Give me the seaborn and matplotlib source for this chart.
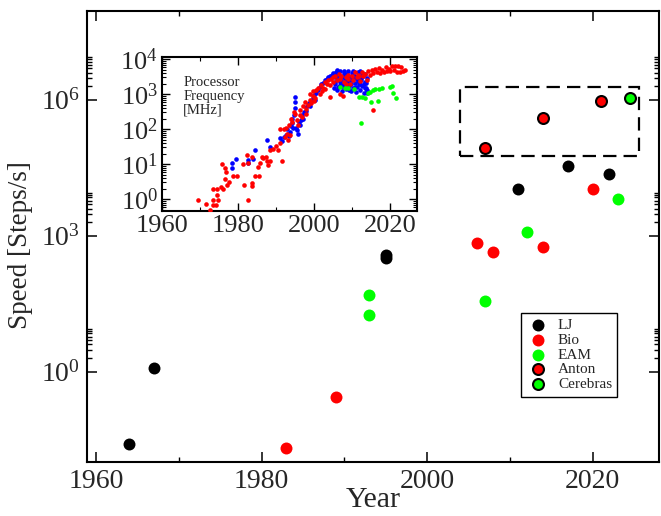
import matplotlib
matplotlib.use("Agg")
import matplotlib.pyplot as plt
import seaborn as sns
import numpy as np
from matplotlib.patches import Rectangle
from matplotlib.ticker import FixedLocator, NullFormatter

# ---------------- main chart data ----------------
lj_year = [1964, 1967, 1995, 1995, 2011, 2017, 2022]
lj_speed = [0.026, 1.23, 380, 320, 1.07e4, 3.4e4, 2.3e4]

bio_year = [1983, 1989, 2006, 2008, 2014, 2020]
bio_speed = [0.0204, 0.28, 708, 447, 575, 1.1e4]

eam_year = [1993, 1993, 2007, 2012, 2023]
eam_speed = [49, 17.8, 36, 1230, 6460]

anton_year = [2007, 2014, 2021]
anton_speed = [8.5e4, 3.9e5, 9.3e5]

cerebras_year = [2024.5]
cerebras_speed = [1.1e6]

series_labels = ["LJ", "Bio", "EAM", "Anton", "Cerebras"]

x_major = [1960, 1980, 2000, 2020]
x_minor = [1970, 1990, 2010]
y_major = [1e0, 1e3, 1e6]
y_major_labels = [r"$10^{0}$", r"$10^{3}$", r"$10^{6}$"]

# ---------------- inset data (processor frequency, MHz) ----------------
red_year = [1969.6, 1971.6, 1972.6, 1973.5, 1974.3, 1973.5, 1974.8, 1974.5, 1973.5, 1974.5,
            1976.0, 1975.5, 1975.9, 1976.5, 1976.8, 1976.7, 1977.7, 1977.0, 1978.6, 1979.8,
            1981.2, 1982.3, 1981.7, 1982.6, 1983.6, 1983.6, 1982.6, 1983.8, 1985.2, 1984.5,
            1985.6, 1985.8, 1986.7, 1986.2, 1987.3, 1987.6, 1987.9, 1988.3, 1988.4, 1989.3,
            1990.0, 1990.6, 1991.1, 1991.5, 1991.1, 1992.0, 1992.6, 1992.8, 1993.2, 1992.3,
            1993.7, 1993.5, 1994.0, 1994.3, 1994.6, 1995.1, 1995.5, 1995.8, 1996.3, 1996.8,
            1996.2, 1997.2, 1997.6, 1997.9, 1998.3, 1998.9, 1999.3, 1999.8, 1999.0, 1999.6,
            2000.5, 2000.2, 2001.0, 2001.6, 2001.8, 2002.4, 2002.8, 2003.3, 2003.6, 2004.2,
            2004.5, 2005.1, 2005.6, 2006.0, 2006.5, 2006.8, 2007.2, 2007.8, 2008.3, 2008.5,
            2009.0, 2009.5, 2010.0, 2010.3, 2010.8, 2011.2, 2011.6, 2012.1, 2012.5, 2013.0,
            2013.4, 2013.8, 2014.3, 2014.7, 2015.2, 2015.6, 2016.1, 2016.5, 2017.0, 2017.4,
            2017.9, 2018.3, 2018.8, 2019.2, 2019.8, 2020.0, 2020.5, 2020.9, 2021.3, 2021.7,
            2022.2, 2022.6, 2022.9, 2023.5, 2024.0, 2004.1, 2006.8, 2007.5, 2015.5, 1998.0,
            1999.9, 2002.0, 2003.0, 2005.0, 2008.9, 2011.9]
red_mhz = [0.93, 0.71, 0.49, 0.68, 0.68, 0.93, 0.93, 1.3, 1.9, 1.9,
           1.9, 2.2, 9.8, 8.0, 6.0, 3.7, 3.1, 2.6, 4.6, 4.6,
           9.8, 18, 2.5, 0.93, 2.8, 2.3, 10.5, 16, 8.5, 4.6,
           4.6, 11, 15, 16, 16, 12, 9.5, 12, 25, 28,
           32, 25, 40, 12.5, 100, 100, 110, 75, 50, 60,
           66, 130, 200, 160, 300, 280, 180, 130, 350, 220,
           250, 450, 600, 380, 500, 700, 550, 900, 1000, 1200,
           1300, 800, 1500, 1000, 1800, 1500, 2200, 2000, 2600, 1800,
           2800, 2300, 3200, 2600, 3800, 2800, 3400, 2200, 3000, 2000,
           3600, 1900, 3200, 2500, 4200, 3000, 3600, 2400, 4400, 3200,
           3800, 2600, 4700, 3600, 4800, 3900, 5200, 4300, 5600, 4100,
           5000, 4400, 6000, 4600, 5400, 4500, 6200, 4800, 6500, 4400,
           6400, 4300, 5800, 4700, 4900, 830, 1000, 900, 350, 280,
           650, 1200, 1400, 3000, 2700, 3300]

blue_year = [1978.3, 1978.3, 1979.6, 1982.5, 1982.6, 1983.9, 1984.5, 1987.5, 1988.3, 1991.0,
             1991.6, 1992.2, 1992.6, 1993.0, 1993.3, 1993.6, 1993.9, 1994.1, 1994.3, 1994.6,
             1994.9, 1995.0, 1995.1, 1995.3, 1995.6, 1995.9, 1996.2, 1996.5, 1996.9, 1997.4,
             1997.8, 1998.3, 1998.8, 1999.2, 1999.7, 2000.1, 2000.6, 2001.0, 2001.5, 2001.9,
             2002.4, 2002.8, 2003.3, 2003.7, 2004.1, 2004.6, 2005.0,
             2005.3, 2005.4, 2005.6, 2005.8, 2006.0, 2006.2, 2006.4, 2006.7, 2006.9, 2007.1,
             2007.3, 2007.5, 2007.7, 2007.9, 2008.1, 2008.3, 2008.6, 2008.8, 2009.0, 2009.2,
             2009.4, 2009.6, 2009.9, 2010.1, 2010.3, 2010.5, 2010.7, 2010.9, 2011.1, 2011.3,
             2011.5, 2011.7, 2011.9, 2012.1, 2012.3, 2012.5, 2012.7, 2012.9, 2013.1, 2013.3,
             2013.5, 2013.7, 2013.9, 2014.0, 2005.5, 2006.3, 2007.0, 2007.8, 2008.5, 2009.3,
             2010.0, 2010.8, 2011.6, 2012.4, 2013.2, 2013.8, 2005.9, 2006.8, 2007.6, 2008.4,
             2009.1, 2009.8, 2010.6, 2011.4, 2012.2, 2012.8, 2013.6, 2013.4, 2014.0, 2006.1,
             2008.0, 2010.2, 2012.0, 1997.0, 1998.0, 1999.0, 2000.3, 1996.0, 1994.4, 1993.2]
blue_mhz = [8.0, 10.5, 14, 11, 13, 14.5, 25, 50, 30, 55,
            45, 60, 70, 100, 65, 85, 120, 200, 150, 250,
            400, 600, 850, 110, 95, 75, 130, 180, 250, 300,
            420, 480, 560, 650, 780, 950, 1100, 1300, 1600, 1900,
            2100, 2500, 2700, 3000, 3300, 3600, 3900,
            1500, 2300, 3100, 4200, 1300, 2700, 3600, 1800, 4500, 2400,
            1200, 3300, 2000, 4100, 2900, 1400, 3800, 2200, 4600, 1700,
            3000, 1250, 3900, 2600, 1500, 4300, 2100, 3400, 1150, 2800,
            4400, 1900, 3200, 1300, 2500, 4100, 1700, 3600, 1100, 2300,
            3800, 1500, 2900, 1050, 1900, 1600, 2600, 3000, 1900, 2500,
            3100, 1600, 2400, 2900, 1900, 1250, 3500, 2200, 1600, 2500,
            1350, 2000, 2900, 1600, 1900, 3200, 2100, 1500, 1300, 4800,
            4700, 4600, 4500, 200, 330, 450, 700, 160, 110, 75]

green_year = [2006.8, 2008.1, 2009.0, 2010.5, 2012.4, 2011.8, 2012.7, 2013.4, 2014.3, 2014.8,
              2015.0, 2015.5, 2016.0, 2016.8, 2017.2, 2018.0, 2020.0, 2020.5, 2020.7, 2021.6]
green_mhz = [1600, 1550, 1480, 1450, 150, 830, 830, 760, 1050, 1150,
             600, 1300, 1450, 630, 1400, 1500, 1600, 1700, 1050, 800]

inset_x_major = [1960, 1980, 2000, 2020]
inset_x_minor = [1970, 1990, 2010]
inset_y_major = [1e0, 1e1, 1e2, 1e3, 1e4]
inset_y_labels = [r"$10^{0}$", r"$10^{1}$", r"$10^{2}$", r"$10^{3}$", r"$10^{4}$"]

# ---------------- style ----------------
sns.set_theme(style="white")
plt.rcParams["font.family"] = ["Liberation Serif", "DejaVu Serif"]
plt.rcParams["mathtext.fontset"] = "custom"
plt.rcParams["mathtext.rm"] = "Liberation Serif"
plt.rcParams["mathtext.it"] = "Liberation Serif:italic"
plt.rcParams["mathtext.bf"] = "Liberation Serif:bold"

RED = "#ff0000"
GREEN = "#00ff00"
BLUE = "#0000ff"

fig = plt.figure(figsize=(6.61, 5.16), dpi=100)
ax = fig.add_axes([0.1316, 0.1047, 0.8654, 0.874])

S_MAIN = 74
sns.scatterplot(x=lj_year, y=lj_speed, ax=ax, color="black", s=S_MAIN, linewidth=0,
                label=series_labels[0], zorder=3)
sns.scatterplot(x=bio_year, y=bio_speed, ax=ax, color=RED, s=S_MAIN, linewidth=0,
                label=series_labels[1], zorder=3)
sns.scatterplot(x=eam_year, y=eam_speed, ax=ax, color=GREEN, s=S_MAIN, linewidth=0,
                label=series_labels[2], zorder=3)
sns.scatterplot(x=anton_year, y=anton_speed, ax=ax, color=RED, s=62, edgecolor="black",
                linewidth=1.5, label=series_labels[3], zorder=3)
sns.scatterplot(x=cerebras_year, y=cerebras_speed, ax=ax, color=GREEN, s=62, edgecolor="black",
                linewidth=1.5, label=series_labels[4], zorder=3)

ax.set_yscale("log")
ax.set_xlim(1958.9, 2028.0)
ax.set_ylim(10 ** -1.99, 10 ** 7.96)

# dashed highlight box
box = Rectangle((2004.0, 10 ** 4.75), 2025.6 - 2004.0, 10 ** 6.28 - 10 ** 4.75,
                fill=False, edgecolor="black", linewidth=1.6,
                linestyle=(0, (6.0, 3.2)), zorder=2)
ax.add_patch(box)

ax.set_xticks(x_major)
ax.set_xticklabels([str(v) for v in x_major])
ax.xaxis.set_minor_locator(FixedLocator(x_minor))
ax.set_yticks(y_major)
ax.set_yticklabels(y_major_labels)
ymin_ticks = [m * d for d in (1e0, 1e3, 1e6) for m in range(2, 10)]
ax.yaxis.set_minor_locator(FixedLocator(ymin_ticks))
ax.yaxis.set_minor_formatter(NullFormatter())

ax.tick_params(which="both", direction="in", top=True, right=True, bottom=True, left=True,
               color="black", labelsize=20, pad=5)
ax.tick_params(which="major", length=7, width=1.1)
ax.tick_params(which="minor", length=3.8, width=1.0)
for sp in ax.spines.values():
    sp.set_color("black")
    sp.set_linewidth(1.5)

ax.set_xlabel("Year", fontsize=21.5, labelpad=-5)
ax.set_ylabel("Speed [Steps/s]", fontsize=19.5)
ax.yaxis.set_label_coords(-0.094, 0.48)

leg = ax.legend(loc="upper left", bbox_to_anchor=(0.758, 0.331), fontsize=11,
                frameon=True, fancybox=False, framealpha=1, edgecolor="black",
                markerscale=1.0, labelspacing=0.08, handletextpad=0.5,
                borderpad=0.35, handlelength=1.6, borderaxespad=0)
leg.get_frame().set_linewidth(1.0)

# ---------------- inset ----------------
axin = fig.add_axes([0.245, 0.591, 0.386, 0.2984])
axin.set_facecolor("white")
S_IN = 11
sns.scatterplot(x=blue_year, y=blue_mhz, ax=axin, color=BLUE, s=S_IN, linewidth=0, zorder=2)
sns.scatterplot(x=red_year, y=red_mhz, ax=axin, color=RED, s=S_IN, linewidth=0, zorder=3)
sns.scatterplot(x=green_year, y=green_mhz, ax=axin, color=GREEN, s=S_IN, linewidth=0, zorder=4)
axin.set_yscale("log")
axin.set_xlim(1960, 2027.1)
axin.set_ylim(10 ** -0.34, 10 ** 4.06)
axin.set_xticks(inset_x_major)
axin.set_xticklabels([str(v) for v in inset_x_major])
axin.xaxis.set_minor_locator(FixedLocator(inset_x_minor))
axin.set_yticks(inset_y_major)
axin.set_yticklabels(inset_y_labels)
iy_minor = [m * d for d in (1e-1, 1e0, 1e1, 1e2, 1e3, 1e4) for m in range(2, 10)]
axin.yaxis.set_minor_locator(FixedLocator(iy_minor))
axin.yaxis.set_minor_formatter(NullFormatter())
axin.tick_params(which="both", direction="in", top=True, right=True, bottom=True, left=True,
                 color="black", labelsize=19, pad=3)
axin.tick_params(which="major", length=6, width=1.0)
axin.tick_params(which="minor", length=3, width=0.8)
for sp in axin.spines.values():
    sp.set_color("black")
    sp.set_linewidth(1.5)
if axin.get_legend() is not None:
    axin.get_legend().remove()
axin.text(0.083, 0.875, "Processor\nFrequency\n[MHz]", transform=axin.transAxes,
          fontsize=10.5, va="top", ha="left", linespacing=1.05)

fig.savefig("out.png", dpi=100)
